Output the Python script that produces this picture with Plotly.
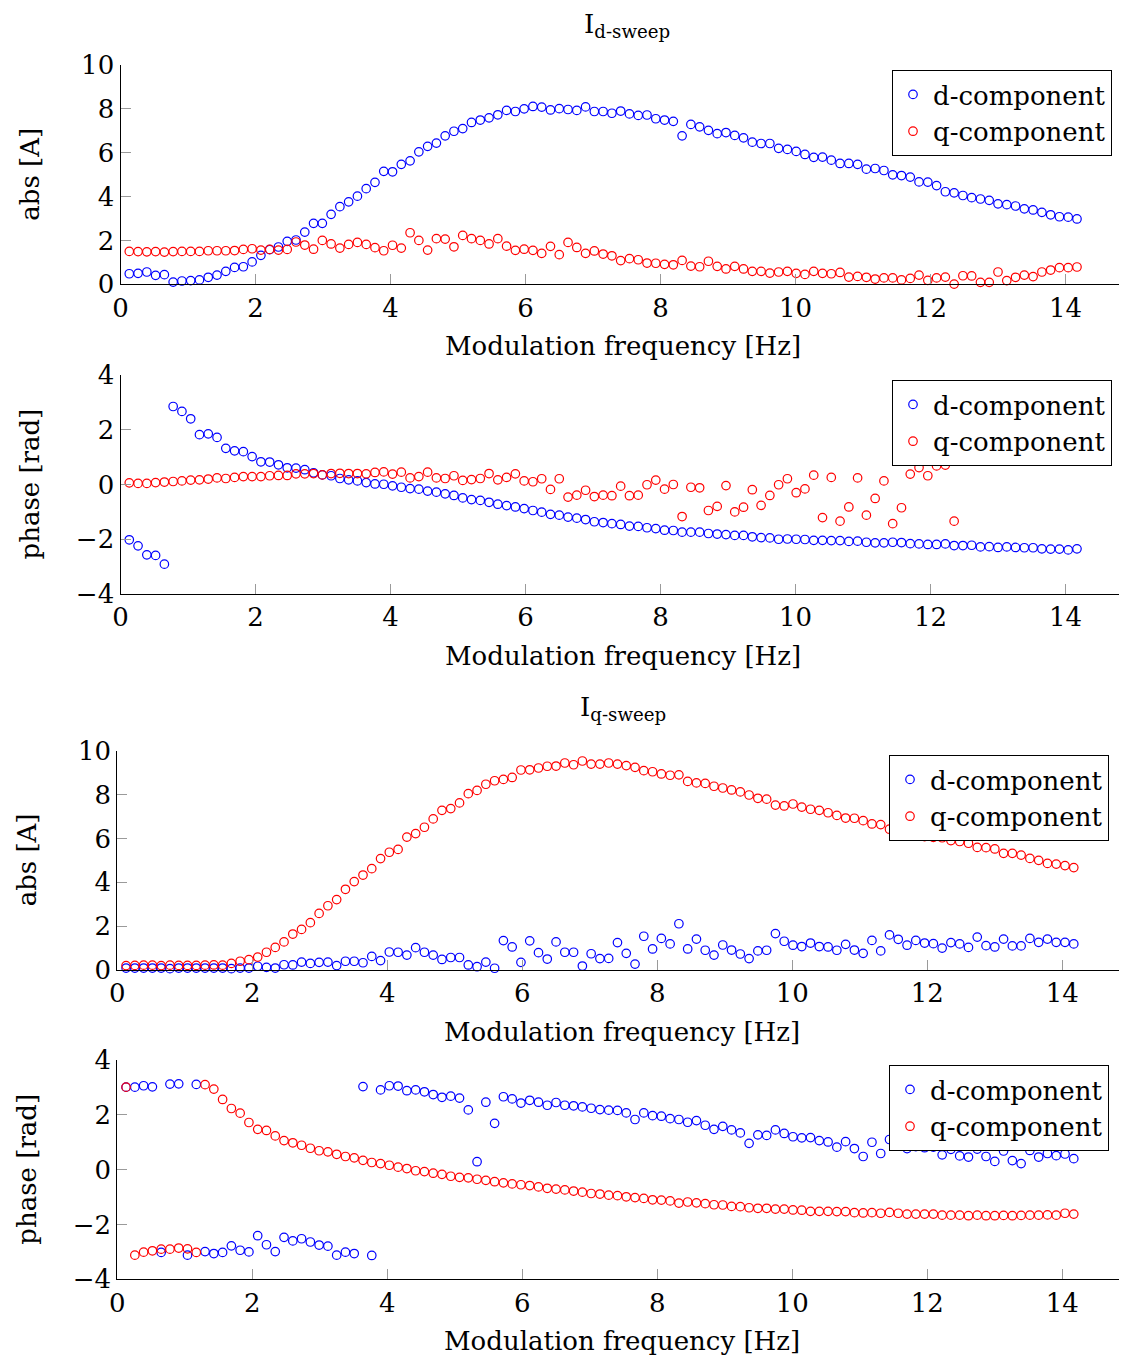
import plotly.graph_objects as go

# ---------------- data ----------------
freq = [round(0.13 * k, 2) for k in range(1, 110)]  # modulation frequency grid [Hz]

id_abs_d = [0.48,0.50,0.56,0.41,0.44,0.10,0.15,0.17,0.20,0.32,0.42,0.59,0.77,0.80,1.02,1.32,1.58,1.70,1.96,2.02,
            2.38,2.78,2.78,3.19,3.54,3.76,4.02,4.36,4.65,5.15,5.13,5.47,5.63,6.04,6.29,6.44,6.77,
            6.98,7.10,7.38,7.49,7.59,7.73,7.93,7.88,8.00,8.11,8.08,7.95,8.01,7.97,7.93,8.09,7.88,7.88,7.80,7.90,
            7.77,7.70,7.72,7.55,7.49,7.43,6.77,7.29,7.18,7.02,6.87,6.92,6.79,6.68,6.48,6.42,6.42,6.20,
            6.15,6.06,5.92,5.79,5.80,5.66,5.51,5.51,5.47,5.25,5.28,5.19,4.99,4.96,4.89,4.67,4.66,4.50,4.22,4.17,
            4.05,3.95,3.89,3.83,3.67,3.63,3.57,3.44,3.39,3.28,3.17,3.08,3.06,2.98]
id_abs_q = [1.50,1.49,1.48,1.49,1.47,1.49,1.50,1.50,1.50,1.53,1.53,1.53,1.54,1.59,1.62,1.56,1.59,1.56,1.59,1.93,
            1.79,1.60,2.00,1.84,1.65,1.82,1.91,1.82,1.67,1.53,1.78,1.65,2.35,2.00,1.56,2.08,2.06,
            1.71,2.23,2.08,2.00,1.84,2.08,1.74,1.55,1.60,1.55,1.41,1.73,1.35,1.91,1.68,1.41,1.52,1.38,1.30,1.08,
            1.17,1.12,0.97,0.96,0.91,0.89,1.09,0.83,0.80,1.05,0.82,0.70,0.82,0.70,0.59,0.59,0.51,0.56,
            0.59,0.50,0.45,0.59,0.50,0.48,0.54,0.33,0.36,0.32,0.24,0.29,0.29,0.20,0.27,0.42,0.18,0.29,0.33,0.01,
            0.39,0.38,0.09,0.09,0.56,0.17,0.32,0.42,0.35,0.56,0.65,0.76,0.76,0.79]
id_ph_d = [-2.02,-2.24,-2.57,-2.59,-2.91,2.85,2.67,2.40,1.82,1.85,1.72,1.32,1.23,1.20,1.02,0.83,0.82,0.72,0.61,0.60,
           0.54,0.43,0.35,0.32,0.22,0.17,0.13,0.07,0.02,0.01,-0.05,-0.10,-0.15,-0.17,-0.24,-0.28,-0.34,
           -0.40,-0.49,-0.55,-0.58,-0.65,-0.72,-0.77,-0.82,-0.88,-0.95,-1.01,-1.09,-1.12,-1.19,-1.23,-1.28,-1.36,
           -1.39,-1.43,-1.46,-1.52,-1.53,-1.58,-1.61,-1.67,-1.68,-1.74,-1.74,-1.74,-1.79,-1.81,-1.83,-1.86,-1.86,
           -1.91,-1.94,-1.95,-2.00,
           -1.99,-2.00,-2.01,-2.04,-2.04,-2.05,-2.05,-2.08,-2.07,-2.11,-2.13,-2.13,-2.11,-2.12,-2.16,-2.17,-2.19,
           -2.19,-2.17,-2.23,-2.23,-2.22,-2.28,-2.27,-2.30,-2.28,-2.30,-2.31,-2.31,-2.35,-2.36,-2.36,-2.39,-2.35]
id_ph_q = [0.06,0.04,0.04,0.07,0.09,0.11,0.13,0.16,0.17,0.20,0.24,0.22,0.26,0.29,0.29,0.29,0.32,0.33,0.33,0.39,
           0.39,0.40,0.35,0.40,0.41,0.40,0.40,0.39,0.44,0.46,0.38,0.45,0.24,0.29,0.45,0.24,0.22,
           0.32,0.15,0.18,0.22,0.40,0.17,0.26,0.39,0.13,0.10,0.21,-0.18,0.21,-0.46,-0.39,-0.21,-0.44,-0.39,-0.41,
           -0.06,-0.41,-0.39,-0.01,0.16,-0.17,0.00,-1.17,-0.10,-0.12,-0.95,-0.80,-0.04,-1.00,-0.83,-0.19,-0.76,
           -0.40,-0.01,
           0.21,-0.30,-0.16,0.34,-1.21,0.26,-1.34,-0.82,0.24,-1.12,-0.51,0.13,-1.43,-0.85,0.38,0.62,0.32,0.68,
           0.71,-1.34,0.90,0.92,1.00,1.05,1.10,1.15,1.20,1.25,1.30,1.35,1.40,1.45,1.50,1.55]

iq_abs_d = [0.09,0.09,0.09,0.09,0.09,0.06,0.09,0.09,0.09,0.09,0.09,0.09,0.06,0.09,0.09,0.17,0.12,0.09,0.24,0.23,
            0.36,0.30,0.35,0.36,0.20,0.40,0.40,0.33,0.62,0.43,0.82,0.81,0.68,1.02,0.81,0.68,0.48,0.57,
            0.57,0.23,0.15,0.36,0.08,1.34,1.05,0.35,1.33,0.79,0.50,1.28,0.81,0.81,0.18,0.74,0.52,0.53,1.25,0.76,
            0.27,1.54,0.96,1.44,1.19,2.11,0.96,1.41,0.90,0.68,1.14,0.91,0.73,0.52,0.87,0.90,1.66,
            1.31,1.13,1.07,1.23,1.07,1.05,0.90,1.17,0.91,0.76,1.35,0.87,1.60,1.40,1.13,1.35,1.23,1.20,1.00,1.25,
            1.19,1.03,1.50,1.11,1.05,1.41,1.10,1.10,1.44,1.26,1.41,1.26,1.26,1.19]
iq_abs_q = [0.20,0.21,0.22,0.22,0.20,0.22,0.21,0.21,0.21,0.22,0.23,0.22,0.30,0.40,0.47,0.59,0.81,1.03,1.28,1.64,
            1.85,2.16,2.58,2.93,3.21,3.68,4.03,4.33,4.62,5.08,5.37,5.50,6.06,6.22,6.51,6.89,7.28,7.36,
            7.62,8.04,8.19,8.47,8.63,8.69,8.78,9.12,9.13,9.21,9.29,9.30,9.44,9.36,9.53,9.39,9.39,9.44,9.39,9.32,
            9.24,9.09,9.04,8.94,8.88,8.90,8.60,8.53,8.51,8.38,8.30,8.21,8.12,7.98,7.83,7.79,7.52,
            7.48,7.57,7.43,7.33,7.28,7.17,7.05,6.93,6.92,6.81,6.66,6.63,6.42,6.35,6.28,6.19,6.08,6.05,6.03,5.90,
            5.86,5.78,5.59,5.58,5.52,5.32,5.32,5.24,5.09,5.00,4.86,4.83,4.76,4.67]
iq_ph_d = [3.01,3.01,3.06,3.02,-3.02,3.12,3.13,-3.12,3.11,-2.99,-3.06,-3.02,-2.78,-2.94,-3.00,-2.41,-2.74,-2.99,
           -2.47,-2.60,-2.52,-2.64,-2.75,-2.79,-3.12,-3.01,-3.06,3.03,-3.13,2.91,3.06,3.05,2.88,2.91,2.84,2.74,
           2.64,2.68,
           2.61,2.18,0.29,2.46,1.69,2.66,2.58,2.43,2.53,2.46,2.35,2.45,2.35,2.33,2.29,2.24,2.19,2.17,2.16,2.07,
           1.83,2.07,1.97,1.95,1.86,1.83,1.73,1.79,1.62,1.47,1.58,1.45,1.34,0.96,1.27,1.25,1.45,
           1.32,1.20,1.16,1.17,1.06,1.01,0.82,1.02,0.77,0.48,1.00,0.59,1.10,0.95,0.77,0.84,0.80,0.82,0.54,0.74,
           0.50,0.46,0.75,0.48,0.30,0.68,0.33,0.22,0.70,0.46,0.59,0.51,0.57,0.40]
iq_ph_q = [3.01,-3.12,-3.01,-2.96,-2.90,-2.90,-2.86,-2.89,-3.02,3.10,2.94,2.56,2.23,2.06,1.72,1.47,1.43,1.23,1.06,
           0.98,0.89,0.78,0.69,0.65,0.56,0.48,0.43,0.34,0.26,0.22,0.16,0.09,0.04,-0.04,-0.07,-0.13,-0.17,-0.24,
           -0.28,-0.30,-0.35,-0.39,-0.44,-0.48,-0.52,-0.55,-0.58,-0.63,-0.68,-0.71,-0.74,-0.78,-0.82,-0.87,-0.89,
           -0.93,-0.95,-0.99,-1.02,-1.05,-1.10,-1.11,-1.14,-1.22,-1.18,-1.21,-1.24,-1.28,-1.29,-1.34,-1.35,-1.39,
           -1.41,-1.41,-1.44,
           -1.44,-1.47,-1.48,-1.52,-1.52,-1.52,-1.53,-1.53,-1.57,-1.58,-1.57,-1.59,-1.56,-1.59,-1.62,-1.62,-1.62,
           -1.62,-1.66,-1.66,-1.66,-1.68,-1.66,-1.68,-1.68,-1.67,-1.68,-1.67,-1.66,-1.66,-1.65,-1.66,-1.59,-1.62]

titles = ["I<sub>d-sweep</sub>", "I<sub>q-sweep</sub>"]
ytitles = ["abs [A]", "phase [rad]", "abs [A]", "phase [rad]"]
xtitle = "Modulation frequency [Hz]"
series_names = ["d-component", "q-component"]
panels_data = [(id_abs_d, id_abs_q), (id_ph_d, id_ph_q), (iq_abs_d, iq_abs_q), (iq_ph_d, iq_ph_q)]
yranges = [[0, 10], [-4, 4], [0, 10], [-4, 4]]
yticks = [[0, 2, 4, 6, 8, 10], [-4, -2, 0, 2, 4], [0, 2, 4, 6, 8, 10], [-4, -2, 0, 2, 4]]
xticks = [0, 2, 4, 6, 8, 10, 12, 14]

# ---------------- layout geometry (page pixels; page body has an 8px margin) ----------------
OFF = 8
W, H = 1127 - OFF, 1358 - OFF
FONT = "DejaVu Serif"
def px_x(p): return (p - OFF) / W
def px_y(p): return 1 - (p - OFF) / H

geo = [  # left x, top y, bottom y, legend right, legend top, ytitle x, xtitle y
    dict(x0=120.5, top=65, bot=284.3, lr=1112, lt=70, ytx=30, xty=346),
    dict(x0=120.5, top=375, bot=594, lr=1112, lt=380, ytx=30, xty=656),
    dict(x0=117.3, top=750.7, bot=970, lr=1109, lt=755, ytx=27, xty=1032),
    dict(x0=117.3, top=1060, bot=1279.3, lr=1109, lt=1065, ytx=27, xty=1341),
]
XR = 1126
PXU = 67.5

fig = go.Figure()
colors = ["#0000ff", "#ff0000"]
layout = dict(width=W, height=H, margin=dict(l=0, r=0, t=0, b=0, autoexpand=False),
              template="none",
              plot_bgcolor="white", paper_bgcolor="white",
              font=dict(family=FONT, size=26, color="black"), annotations=[])

for i, (g, (dvals, qvals)) in enumerate(zip(geo, panels_data)):
    n = i + 1
    xa = "x" if n == 1 else f"x{n}"
    ya = "y" if n == 1 else f"y{n}"
    lg = "legend" if n == 1 else f"legend{n}"
    for name, vals, col in zip(series_names, (dvals, qvals), colors):
        fig.add_trace(go.Scatter(
            x=freq, y=vals, mode="markers", name=name, xaxis=xa, yaxis=ya, legend=lg,
            cliponaxis=False,
            marker=dict(symbol="circle-open", size=8.5, color=col, line=dict(width=1.2, color=col))))
    axis_common = dict(showline=True, linecolor="black", linewidth=1.2, mirror=False,
                       ticks="inside", ticklen=10, tickcolor="#9a9a9a", tickwidth=1,
                       showgrid=False, zeroline=False, automargin=False,
                       tickfont=dict(family=FONT, size=26))
    layout[f"xaxis{'' if n == 1 else n}"] = dict(
        domain=[px_x(g["x0"]), min(1.0, px_x(XR))], range=[0, (XR - g["x0"]) / PXU],
        tickvals=xticks, anchor=ya, **axis_common)
    layout[f"yaxis{'' if n == 1 else n}"] = dict(
        domain=[px_y(g["bot"]), px_y(g["top"])], range=yranges[i],
        tickvals=yticks[i], anchor=xa, **axis_common)
    layout[lg] = dict(x=px_x(g["lr"]), y=px_y(g["lt"]), xanchor="right", yanchor="top",
                      bgcolor="white", bordercolor="black", borderwidth=1,
                      font=dict(family=FONT, size=26), tracegroupgap=0,
                      itemwidth=30)
    layout["annotations"].append(dict(
        text=ytitles[i], textangle=-90, x=px_x(g["ytx"]), y=px_y((g["top"] + g["bot"]) / 2),
        xref="paper", yref="paper", showarrow=False, xanchor="center", yanchor="middle",
        font=dict(family=FONT, size=26)))
    layout["annotations"].append(dict(
        text=xtitle, x=px_x((g["x0"] + XR) / 2), y=px_y(g["xty"]),
        xref="paper", yref="paper", showarrow=False, xanchor="center", yanchor="middle",
        font=dict(family=FONT, size=26)))

for t, (cx, cy) in zip(titles, [(627, 25), (623, 708)]):
    layout["annotations"].append(dict(
        text=t, x=px_x(cx), y=px_y(cy), xref="paper", yref="paper", showarrow=False,
        xanchor="center", yanchor="middle", font=dict(family=FONT, size=26)))

fig.update_layout(**layout)
fig.write_html("out.html")
